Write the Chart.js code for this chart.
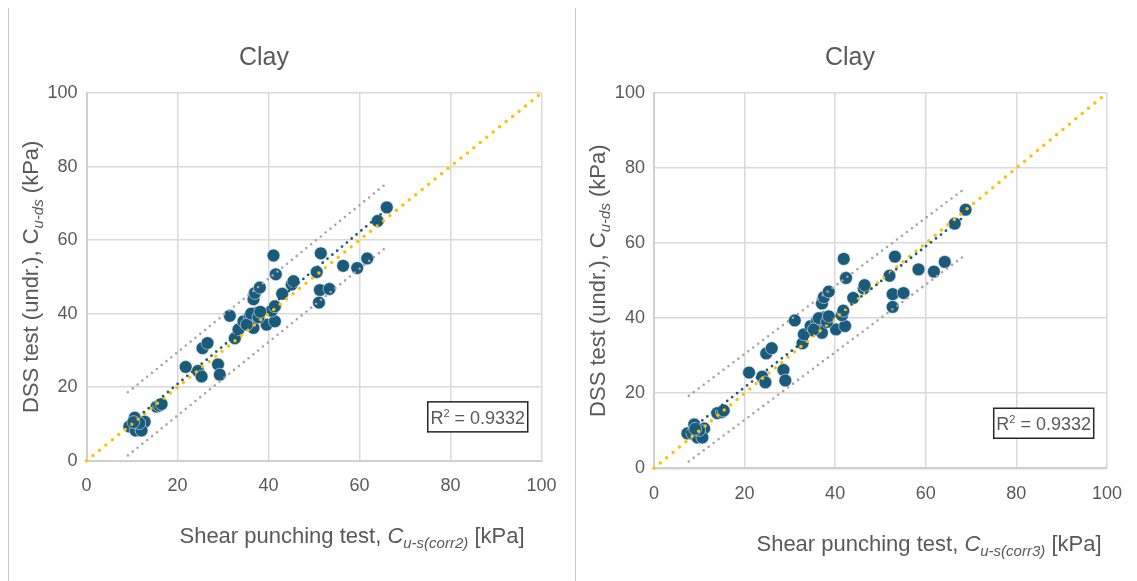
<!DOCTYPE html>
<html>
<head>
<meta charset="utf-8">
<script src="https://cdn.jsdelivr.net/npm/chart.js"></script>
<style>
  html, body { margin: 0; padding: 0; background: #fff; }
  body { width: 1137px; height: 581px; position: relative; overflow: hidden; }
  .rule { position: absolute; top: 8px; width: 1px; height: 573px; background: #c8c8c8; }
  canvas { position: absolute; top: 0; }
</style>
</head>
<body>
<div class="rule" style="left:8px"></div>
<div class="rule" style="left:575px"></div>
<canvas id="clayCorr2" width="566" height="581" style="left:9px"></canvas>
<canvas id="clayCorr3" width="561" height="581" style="left:576px"></canvas>
<script>
var tickValues = [0, 20, 40, 60, 80, 100];

// DSS undrained strength (kPa), same samples in both plots
var dssStrength = [11.7, 10.6, 9.3, 9.3, 8.2, 8.2, 10.2, 10.5, 14.7, 15.0, 15.4,
  25.5, 24.4, 22.9, 30.6, 32.0, 26.2, 23.4, 39.4, 33.3, 35.7, 37.9, 39.3, 40.2,
  36.1, 37.0, 37.9, 43.9, 45.6, 47.1, 40.8, 42.0, 55.8, 50.7, 45.4, 47.9, 48.8,
  51.3, 56.4, 46.4, 46.7, 43.0, 53.0, 52.4, 55.0, 65.2, 68.9, 37.0, 40.0, 39.0, 40.5];

// shear punching strength, correction 2 (kPa)
var punchCorr2 = [10.6, 12.8, 9.4, 11.1, 10.8, 12.1, 11.6, 10.3, 15.4, 16.0, 16.5,
  21.8, 24.5, 25.3, 25.5, 26.6, 28.9, 29.3, 31.5, 32.6, 33.4, 34.5, 35.9, 37.4,
  36.7, 39.6, 41.4, 36.7, 37.0, 38.1, 40.7, 41.4, 41.1, 41.6, 43.0, 45.1, 45.5,
  50.6, 51.5, 51.3, 53.4, 51.1, 56.4, 59.5, 61.7, 64.0, 66.0, 35.2, 36.2, 37.8, 38.2];

// shear punching strength, correction 3 (kPa)
var punchCorr3 = [8.9, 11.1, 7.4, 8.5, 9.6, 10.7, 10.0, 9.1, 14.0, 15.0, 15.4,
  21.0, 23.9, 24.6, 24.8, 26.0, 28.6, 29.0, 31.1, 32.8, 33.1, 34.6, 36.0, 37.5,
  37.1, 40.2, 42.2, 37.1, 37.5, 38.6, 41.5, 41.8, 41.9, 42.4, 44.0, 46.3, 46.5,
  52.0, 53.2, 52.7, 55.1, 52.7, 58.4, 61.8, 64.2, 66.4, 68.8, 35.3, 36.4, 38.2, 38.6];

// 1:1 line
var equalityX = [0, 100];
var equalityY = [0, 100];

// linear trend and band, correction 2
var trendCorr2X = [9.4, 66.0];
var trendCorr2Y = [9.9, 68.4];
var bandCorr2X = [9.1, 65.9];
var upperCorr2Y = [18.6, 75.4];
var lowerCorr2Y = [1.4, 58.1];

// linear trend and band, correction 3
var trendCorr3X = [7.4, 68.8];
var trendCorr3Y = [9.7, 67.4];
var bandCorr3X = [7.7, 68.8];
var upperCorr3Y = [19.3, 74.7];
var lowerCorr3Y = [1.8, 56.9];

var rSquared = '0.9332';
var rBoxAt = [75, 16];

var baseFont = "'Liberation Sans', Arial, sans-serif";
var textGrey = '#595959';

function pairs(xs, ys) {
  return xs.map(function (x, i) { return { x: x, y: ys[i] }; });
}

function dotted(data, colour, width, gap) {
  return {
    data: data,
    showLine: true,
    pointRadius: 0,
    borderColor: colour,
    borderWidth: width,
    borderDash: [0, gap],
    borderCapStyle: 'round',
    fill: false,
    clip: false
  };
}

// draws a row of text pieces with their own font, centred on cx
function drawRuns(ctx, runs, cx, baseline) {
  var total = 0;
  runs.forEach(function (r) { ctx.font = r.font; r.w = ctx.measureText(r.text).width; total += r.w; });
  var x = cx - total / 2;
  ctx.textAlign = 'left';
  ctx.textBaseline = 'alphabetic';
  runs.forEach(function (r) {
    ctx.font = r.font;
    ctx.fillText(r.text, x, baseline + (r.dy || 0));
    x += r.w;
  });
}

var panelText = {
  id: 'panelText',
  afterDraw: function (chart, args, opts) {
    var ctx = chart.ctx, area = chart.chartArea;
    ctx.save();
    ctx.fillStyle = textGrey;

    ctx.font = '25px ' + baseFont;
    ctx.textAlign = 'center';
    ctx.textBaseline = 'alphabetic';
    ctx.fillText(opts.title, opts.titleX, 65);

    drawRuns(ctx, [
      { text: 'Shear punching test, ', font: '22px ' + baseFont },
      { text: 'C', font: 'italic 22px ' + baseFont },
      { text: opts.subscript, font: 'italic 15px ' + baseFont, dy: 5 },
      { text: ' [kPa]', font: '22px ' + baseFont }
    ], opts.xTitleX, area.bottom + opts.xTitleGap);

    ctx.save();
    ctx.translate(opts.yTitleX, (area.top + area.bottom) / 2);
    ctx.rotate(-Math.PI / 2);
    drawRuns(ctx, [
      { text: 'DSS test (undr.), ', font: '22px ' + baseFont },
      { text: 'C', font: '22px ' + baseFont },
      { text: 'u-ds', font: 'italic 15px ' + baseFont, dy: 5 },
      { text: ' (kPa)', font: '22px ' + baseFont }
    ], 0, 8);
    ctx.restore();

    // R² box
    var bx = chart.scales.x.getPixelForValue(rBoxAt[0]);
    var by = chart.scales.y.getPixelForValue(rBoxAt[1]);
    ctx.fillStyle = '#fff';
    ctx.fillRect(bx, by, 100, 30);
    ctx.strokeStyle = '#262626';
    ctx.lineWidth = 1.5;
    ctx.strokeRect(bx, by, 100, 30);
    ctx.fillStyle = textGrey;
    drawRuns(ctx, [
      { text: 'R', font: '18px ' + baseFont },
      { text: '2', font: '11px ' + baseFont, dy: -7 },
      { text: ' = ' + rSquared, font: '18px ' + baseFont }
    ], bx + 50, by + 22);
    ctx.restore();
  }
};

function axis(fitFn, pad) {
  return {
    type: 'linear',
    min: 0,
    max: 100,
    afterBuildTicks: function (s) { s.ticks = tickValues.map(function (v) { return { value: v }; }); },
    afterFit: fitFn,
    grid: { color: '#d9d9d9', lineWidth: 1.5, drawTicks: false },
    border: { color: '#d0d0d0', width: 2 },
    ticks: { color: textGrey, font: { family: baseFont, size: 18 }, padding: pad, maxRotation: 0 }
  };
}

function makeChart(id, xs, trendX, trendY, bandX, upperY, lowerY, layout) {
  return new Chart(document.getElementById(id), {
    type: 'scatter',
    data: {
      datasets: [
        dotted(pairs(bandX, upperY), '#a5a5a5', 2.6, 6.2),
        dotted(pairs(bandX, lowerY), '#a5a5a5', 2.6, 6.2),
        dotted(pairs(trendX, trendY), '#1c5b7c', 2.8, 6.3),
        dotted(pairs(equalityX, equalityY), '#ffc000', 3.5, 8.3),
        {
          data: pairs(xs, dssStrength),
          pointRadius: 6.4,
          backgroundColor: '#1a5a7b',
          borderColor: 'rgba(225,235,240,0.75)',
          borderWidth: 0.8
        }
      ]
    },
    options: {
      responsive: false,
      animation: false,
      layout: { padding: { top: 93, right: layout.right, bottom: 0, left: 0 } },
      plugins: {
        legend: { display: false },
        tooltip: { enabled: false },
        panelText: layout.text
      },
      scales: {
        x: axis(function (s) { s.height = layout.xHeight; }, 15),
        y: axis(function (s) { s.width = layout.yWidth; }, 9)
      }
    },
    plugins: [panelText]
  });
}

makeChart('clayCorr2', punchCorr2, trendCorr2X, trendCorr2Y, bandCorr2X, upperCorr2Y, lowerCorr2Y, {
  right: 33.5, xHeight: 120.3, yWidth: 77.5,
  text: { title: 'Clay', titleX: 255, subscript: 'u-s(corr2)', xTitleX: 343, xTitleGap: 82, yTitleX: 21 }
});

makeChart('clayCorr3', punchCorr3, trendCorr3X, trendCorr3Y, bandCorr3X, upperCorr3Y, lowerCorr3Y, {
  right: 22, xHeight: 112.7, yWidth: 77.9,
  text: { title: 'Clay', titleX: 274, subscript: 'u-s(corr3)', xTitleX: 353, xTitleGap: 83, yTitleX: 21 }
});
</script>
</body>
</html>
